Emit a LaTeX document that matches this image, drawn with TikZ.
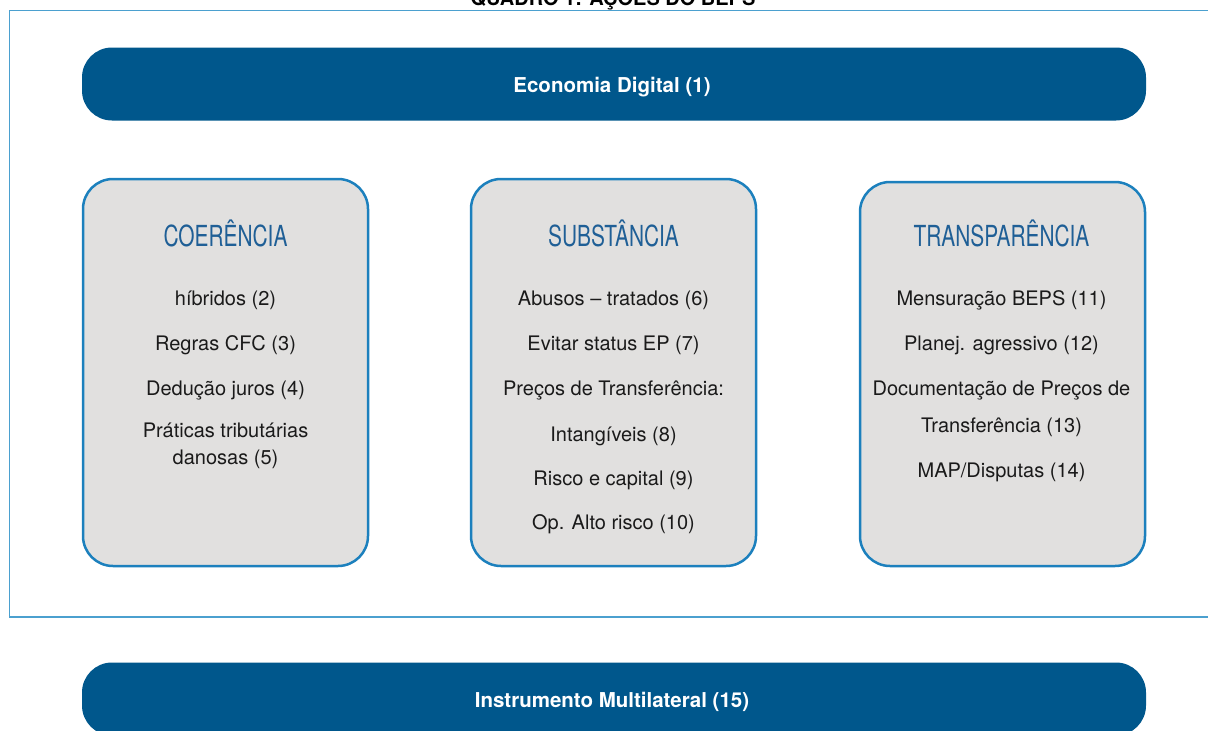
\documentclass[tikz,border=0pt]{standalone}
\usepackage{fontspec}
\setmainfont{TeX Gyre Heros}
\usepackage{graphicx}
\definecolor{banner}{HTML}{00578C}
\definecolor{boxline}{HTML}{1C80BD}
\definecolor{boxfill}{HTML}{E1E0DF}
\definecolor{frameline}{HTML}{4BA0CF}
\definecolor{titleblue}{HTML}{1F5F96}
\definecolor{itemtext}{HTML}{1A1A1A}
\tikzset{
  bannerbox/.style={draw=none, fill=banner, rounded corners=30pt, minimum width=1064pt, minimum height=73pt, inner sep=0pt},
  bannertext/.style={text=white, anchor=base, inner sep=0pt, font=\fontsize{20.5pt}{24pt}\selectfont\bfseries},
  pillar/.style={draw=boxline, line width=2.5pt, fill=boxfill, rounded corners=30pt, minimum width=285pt, inner sep=0pt},
  pillartitle/.style={text=titleblue, anchor=base, inner sep=0pt, font=\fontsize{29pt}{32pt}\selectfont},
  item/.style={text=itemtext, anchor=base, inner sep=0pt, font=\fontsize{20pt}{24pt}\selectfont},
}
\newcommand{\cond}[1]{\scalebox{0.72}[1]{#1}}
\begin{document}
\begin{tikzpicture}[x=1pt,y=-1pt]
\useasboundingbox (0,0) rectangle (1208,731);
% outer frame
\draw[frameline, line width=1.5pt] (1220,10.5) -- (9.5,10.5) -- (9.5,617) -- (1220,617);
% cut-off title
\node[anchor=base, inner sep=0pt, font=\fontsize{20pt}{24pt}\selectfont\bfseries] (title) at (613,5) {QUADRO 1: AÇÕES DO BEPS};
% banners
\node[bannerbox] (top) at (614,84) {};
\node[bannertext] (toptext) at (612,92) {Economia Digital (1)};
\node[bannerbox] (bottom) at (614,699) {};
\node[bannertext] (bottomtext) at (612,707) {Instrumento Multilateral (15)};
% pillars
\node[pillar, minimum height=387pt] (coer) at (225.5,372.5) {};
\node[pillar, minimum height=387pt] (subs) at (613.5,372.5) {};
\node[pillar, minimum height=384pt] (trans) at (1002.5,374) {};
% titles
\node[pillartitle] (coerT) at (225.5,246) {\cond{COERÊNCIA}};
\node[pillartitle] (subsT) at (613.5,246) {\cond{SUBSTÂNCIA}};
\node[pillartitle] (transT) at (1001.5,246) {\cond{TRANSPARÊNCIA}};
% items coerencia
\node[item] (c1) at (225.5,305) {híbridos (2)};
\node[item] (c2) at (225.5,350) {Regras CFC (3)};
\node[item] (c3) at (225.5,395) {Dedução juros (4)};
\node[item] (c4) at (225.5,437) {Práticas tributárias};
\node[item] (c5) at (225.5,464) {danosas (5)};
% items substancia
\node[item] (s1) at (613.5,305) {Abusos – tratados (6)};
\node[item] (s2) at (613.5,350) {Evitar status EP (7)};
\node[item] (s3) at (613.5,395) {Preços de Transferência:};
\node[item] (s4) at (613.5,441) {Intangíveis (8)};
\node[item] (s5) at (613.5,485) {Risco e capital (9)};
\node[item] (s6) at (613.5,529) {Op. Alto risco (10)};
% items transparencia
\node[item] (t1) at (1001.5,305) {Mensuração BEPS (11)};
\node[item] (t2) at (1001.5,350) {Planej. agressivo (12)};
\node[item] (t3) at (1001.5,395) {Documentação de Preços de};
\node[item] (t4) at (1001.5,432) {Transferência (13)};
\node[item] (t5) at (1001.5,477) {MAP/Disputas (14)};
\end{tikzpicture}
\end{document}
